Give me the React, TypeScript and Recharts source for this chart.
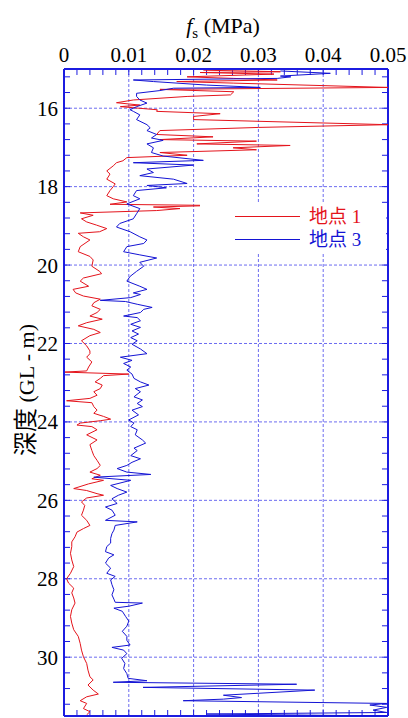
import React from 'react';
import { LineChart, Line, XAxis, YAxis, ReferenceLine, Legend } from 'recharts';

// 地点 1 (red) : depth (m) and skin friction fs (MPa)
const depth1 = [
  15.03, 15.07, 15.09, 15.13, 15.2, 15.24, 15.28, 15.32, 15.36, 15.47, 15.52, 15.58, 15.66, 15.7, 15.79, 15.86, 15.92, 15.96,
  16.04, 16.08, 16.14, 16.21, 16.29, 16.42, 16.49, 16.57, 16.67, 16.73, 16.8, 16.84, 16.91, 16.95, 17.01, 17.06, 17.13, 17.2,
  17.26, 17.34, 17.39, 17.47, 17.6, 17.68, 17.81, 17.93, 18.0, 18.1, 18.23, 18.31, 18.39, 18.45, 18.48, 18.52, 18.56, 18.61,
  18.67, 18.73, 18.82, 18.9, 18.98, 19.07, 19.15, 19.19, 19.28, 19.36, 19.53, 19.66, 19.78, 19.87, 20.03, 20.16, 20.22, 20.33,
  20.41, 20.54, 20.62, 20.71, 20.79, 20.87, 20.96, 21.04, 21.13, 21.21, 21.3, 21.38, 21.47, 21.55, 21.64, 21.72, 21.8, 21.93,
  22.06, 22.19, 22.26, 22.35, 22.47, 22.6, 22.7, 22.73, 22.78, 22.82, 22.89, 22.98, 23.06, 23.15, 23.23, 23.32, 23.4, 23.46,
  23.51, 23.61, 23.7, 23.78, 23.86, 23.93, 23.97, 24.03, 24.08, 24.12, 24.2, 24.33, 24.46, 24.58, 24.73, 24.86, 24.98, 25.11,
  25.19, 25.28, 25.36, 25.45, 25.49, 25.58, 25.7, 25.75, 25.83, 25.87, 25.94, 26.04, 26.13, 26.25, 26.38, 26.51, 26.64, 26.72,
  26.81, 26.93, 27.06, 27.18, 27.35, 27.52, 27.69, 27.86, 28.0, 28.11, 28.24, 28.36, 28.49, 28.62, 28.79, 28.96, 29.13, 29.3,
  29.47, 29.65, 29.82, 29.99, 30.16, 30.33, 30.5, 30.58, 30.71, 30.84, 30.94, 31.01, 31.11, 31.18, 31.31, 31.39, 31.47,
];
const fs1 = [
  0.0215, 0.0334, 0.021, 0.0324, 0.019, 0.0262, 0.0329, 0.0174, 0.0262, 0.05, 0.0148, 0.0262, 0.0257, 0.019, 0.0107, 0.0081, 0.0117, 0.0087,
  0.0144, 0.0143, 0.0241, 0.02, 0.02, 0.05, 0.03, 0.0148, 0.0143, 0.023, 0.0148, 0.0297, 0.0205, 0.0349, 0.0261, 0.0297, 0.0148, 0.019,
  0.0097, 0.0091, 0.0081, 0.0076, 0.0066, 0.0071, 0.0066, 0.0079, 0.0076, 0.0071, 0.0066, 0.0076, 0.0097, 0.0071, 0.0233, 0.0138, 0.0179, 0.0143,
  0.0025, 0.0045, 0.0027, 0.0035, 0.005, 0.0066, 0.0055, 0.0022, 0.003, 0.004, 0.0025, 0.0022, 0.004, 0.0045, 0.0043, 0.0055, 0.0058, 0.003,
  0.0025, 0.0038, 0.0014, 0.0018, 0.003, 0.0056, 0.0046, 0.0043, 0.0056, 0.0051, 0.004, 0.0059, 0.0035, 0.0022, 0.0046, 0.0056, 0.004, 0.0027,
  0.0035, 0.004, 0.004, 0.0035, 0.0043, 0.0038, 0.0035, 0.0, 0.01, 0.0061, 0.0056, 0.0048, 0.0059, 0.0056, 0.0046, 0.0051, 0.004, 0.0004,
  0.0043, 0.0046, 0.0051, 0.0046, 0.0061, 0.0072, 0.0056, 0.0025, 0.002, 0.0043, 0.0051, 0.0035, 0.0051, 0.004, 0.0043, 0.0046, 0.0051, 0.0056,
  0.0051, 0.004, 0.0056, 0.0043, 0.0061, 0.0038, 0.0015, 0.0035, 0.0051, 0.0061, 0.0035, 0.0027, 0.0032, 0.003, 0.0027, 0.0035, 0.004, 0.003,
  0.002, 0.0017, 0.0012, 0.0012, 0.001, 0.0012, 0.0015, 0.001, 0.0004, 0.0007, 0.0015, 0.0012, 0.0015, 0.0017, 0.0012, 0.001, 0.0012, 0.0015,
  0.0022, 0.0025, 0.0027, 0.003, 0.0035, 0.0037, 0.004, 0.0045, 0.0037, 0.0045, 0.0053, 0.0035, 0.0025, 0.0035, 0.003, 0.004, 0.0035,
];

// 地点 3 (blue)
const depth3 = [
  15.05, 15.11, 15.18, 15.2, 15.24, 15.28, 15.32, 15.41, 15.47, 15.49, 15.55, 15.62, 15.7, 15.79, 15.87, 15.96, 16.04,
  16.08, 16.17, 16.29, 16.42, 16.5, 16.57, 16.67, 16.76, 16.82, 16.91, 17.01, 17.13, 17.22, 17.33, 17.39, 17.45, 17.55,
  17.64, 17.72, 17.81, 17.92, 17.97, 18.03, 18.1, 18.23, 18.31, 18.44, 18.56, 18.69, 18.82, 18.94, 19.03, 19.15, 19.28,
  19.36, 19.45, 19.53, 19.66, 19.74, 19.82, 19.93, 20.03, 20.16, 20.29, 20.41, 20.54, 20.62, 20.71, 20.75, 20.83, 20.9,
  20.93, 21.0, 21.08, 21.13, 21.21, 21.3, 21.34, 21.42, 21.51, 21.59, 21.68, 21.76, 21.85, 21.93, 22.02, 22.14, 22.26,
  22.35, 22.43, 22.51, 22.6, 22.68, 22.78, 22.89, 22.98, 23.06, 23.15, 23.23, 23.36, 23.44, 23.53, 23.61, 23.7, 23.82,
  23.95, 24.03, 24.12, 24.2, 24.33, 24.46, 24.54, 24.67, 24.73, 24.86, 24.94, 25.03, 25.11, 25.19, 25.28, 25.34, 25.41,
  25.49, 25.62, 25.7, 25.79, 25.87, 25.96, 26.08, 26.17, 26.25, 26.38, 26.51, 26.55, 26.64, 26.76, 26.85, 26.97, 27.09,
  27.18, 27.31, 27.39, 27.47, 27.6, 27.73, 27.86, 27.94, 28.03, 28.15, 28.28, 28.41, 28.52, 28.6, 28.62, 28.7, 28.75,
  28.83, 28.96, 29.08, 29.21, 29.34, 29.47, 29.57, 29.69, 29.75, 29.82, 29.91, 30.03, 30.16, 30.29, 30.42, 30.54, 30.6,
  30.64, 30.69, 30.77, 30.84, 30.97, 31.03, 31.07, 31.11, 31.18, 31.22, 31.28, 31.35, 31.41, 31.45, 31.5,
];
const fs3 = [
  0.0334, 0.0411, 0.0334, 0.035, 0.0329, 0.0107, 0.0138, 0.022, 0.0303, 0.0169, 0.0148, 0.0112, 0.0112, 0.0117, 0.0128, 0.0112, 0.0102,
  0.0107, 0.0117, 0.0112, 0.0128, 0.0133, 0.0128, 0.0143, 0.0135, 0.0153, 0.0128, 0.0138, 0.0135, 0.0153, 0.0215, 0.0107, 0.02, 0.0128,
  0.0138, 0.0117, 0.0169, 0.019, 0.0128, 0.0158, 0.0112, 0.0107, 0.0117, 0.0097, 0.0117, 0.0112, 0.0107, 0.0086, 0.0081, 0.0102, 0.0117,
  0.0128, 0.0123, 0.0097, 0.0092, 0.0117, 0.0143, 0.0117, 0.0123, 0.0112, 0.0102, 0.0097, 0.0117, 0.0128, 0.0107, 0.0118, 0.0103, 0.0056,
  0.0095, 0.0113, 0.0136, 0.0123, 0.0118, 0.0092, 0.0113, 0.0118, 0.0103, 0.0118, 0.0105, 0.0115, 0.0103, 0.0113, 0.0105, 0.0118, 0.0128,
  0.0087, 0.0105, 0.0092, 0.0103, 0.0097, 0.0105, 0.0108, 0.0118, 0.0131, 0.011, 0.0118, 0.0108, 0.0121, 0.0113, 0.0121, 0.0105, 0.0115,
  0.01, 0.0108, 0.0103, 0.0113, 0.011, 0.0121, 0.0126, 0.0108, 0.0113, 0.0103, 0.0118, 0.0105, 0.0097, 0.0082, 0.0097, 0.0134, 0.0046,
  0.0103, 0.0072, 0.0082, 0.0097, 0.0084, 0.0074, 0.0082, 0.0064, 0.0074, 0.0079, 0.0064, 0.0113, 0.0079, 0.0077, 0.0074, 0.0072, 0.0072,
  0.0066, 0.0064, 0.0077, 0.0069, 0.0064, 0.0072, 0.0066, 0.0079, 0.0072, 0.0074, 0.0077, 0.0074, 0.0077, 0.0079, 0.0121, 0.01, 0.0077,
  0.009, 0.0095, 0.01, 0.0097, 0.009, 0.0097, 0.0097, 0.0102, 0.0074, 0.0092, 0.0097, 0.0089, 0.0094, 0.0092, 0.0097, 0.0099, 0.0128,
  0.0076, 0.0359, 0.0122, 0.0387, 0.0246, 0.0274, 0.0246, 0.0184, 0.0498, 0.0472, 0.0498, 0.0477, 0.0498, 0.022, 0.0498,
];

const X_DOMAIN: [number, number] = [0, 0.05];
const Y_DOMAIN: [number, number] = [15, 31.5];
const xTicks = [0, 0.01, 0.02, 0.03, 0.04, 0.05];
const yTicks = [16, 18, 20, 22, 24, 26, 28, 30];
const xMinor = Array.from({ length: 24 }, (_, i) => +((i + 1) * 0.002).toFixed(3));
const yMinor = Array.from({ length: 41 }, (_, i) => +(15.2 + i * 0.4).toFixed(1));
const gridX = [0.01, 0.02, 0.03, 0.04];
const gridY = [16, 18, 20, 22, 24, 26, 28, 30];

// tick mark length (~6px) in data units
const TICK_DX = 0.00093;
const TICK_DY = 0.153;

const RED = '#e4141c';
const BLUE = '#1414d4';
const FRAME = '#1c1ce0';
const GRID = '#6c6cf0';
const SERIF = "'Liberation Serif', 'Noto Sans CJK JP', serif";

const series = [
  { name: '地点 1', color: RED, data: depth1.map((d, i) => ({ depth: d, fs: fs1[i] })) },
  { name: '地点 3', color: BLUE, data: depth3.map((d, i) => ({ depth: d, fs: fs3[i] })) },
];

const FsLabel = (props: any) => {
  const vb = props.viewBox;
  const cx = vb.x + vb.width / 2 - 3;
  return (
    <text x={cx} y={vb.y + 4} textAnchor="middle" fontFamily={SERIF} fontSize={22} fill="#000">
      <tspan fontStyle="italic">f</tspan>
      <tspan fontSize={15} dy={5}>s</tspan>
      <tspan dy={-5}> (MPa)</tspan>
    </text>
  );
};

const DepthLabel = () => (
  <text x={34} y={390} transform="rotate(-90, 34, 390)" textAnchor="middle" fontFamily={SERIF} fontSize={22} fill="#000">
    <tspan fontSize={24}>深度</tspan>
    <tspan> (GL - m)</tspan>
  </text>
);

const LegendBox = () => (
  <svg width={186} height={50} style={{ display: 'block' }}>
    <rect x={0} y={0} width={186} height={50} fill="#fff" />
    {series.map((s, i) => (
      <g key={s.name}>
        <line x1={35} x2={100} y1={13.5 + i * 23} y2={13.5 + i * 23} stroke={s.color} strokeWidth={1} />
        <text x={109} y={20 + i * 23} fill={s.color} fontFamily={SERIF} fontSize={19}>
          {s.name}
        </text>
      </g>
    ))}
  </svg>
);

export default function App() {
  const refProps = { xAxisId: 'top', yAxisId: 'left', stroke: FRAME, strokeWidth: 1 };
  return (
    <div style={{ position: 'absolute', left: 0, top: 0, width: 408, height: 718, background: '#fff' }}>
      <LineChart width={408} height={718} layout="vertical" margin={{ top: 29, right: 20, bottom: 2, left: 0 }}>
        <XAxis
          xAxisId="top"
          type="number"
          orientation="top"
          domain={X_DOMAIN}
          allowDataOverflow
          ticks={xTicks}
          interval={0}
          height={40}
          tickLine={false}
          tickSize={0}
          tickMargin={7}
          tickFormatter={(v: number) => String(v)}
          axisLine={{ stroke: FRAME, strokeWidth: 2 }}
          tick={{ fill: '#000', fontSize: 21, fontFamily: SERIF }}
          label={FsLabel}
        />
        <YAxis
          yAxisId="left"
          type="number"
          dataKey="depth"
          domain={Y_DOMAIN}
          allowDataOverflow
          ticks={yTicks}
          interval={0}
          width={64}
          tickLine={false}
          tickSize={0}
          tickMargin={6}
          axisLine={{ stroke: FRAME, strokeWidth: 2 }}
          tick={{ fill: '#000', fontSize: 21, fontFamily: SERIF }}
          label={DepthLabel}
        />
        {gridX.map((v) => (
          <ReferenceLine key={`gx${v}`} xAxisId="top" yAxisId="left" x={v} stroke={GRID} strokeDasharray="3 2" strokeWidth={1} />
        ))}
        {gridY.map((v) => (
          <ReferenceLine key={`gy${v}`} xAxisId="top" yAxisId="left" y={v} stroke={GRID} strokeDasharray="3 2" strokeWidth={1} />
        ))}
        {/* right and bottom frame */}
        <ReferenceLine {...refProps} x={X_DOMAIN[1]} strokeWidth={2} />
        <ReferenceLine {...refProps} y={Y_DOMAIN[1]} strokeWidth={2} />
        {/* inward minor ticks on all four sides */}
        {xMinor.map((v) => (
          <ReferenceLine key={`tt${v}`} {...refProps} segment={[{ x: v, y: Y_DOMAIN[0] }, { x: v, y: Y_DOMAIN[0] + TICK_DY }]} />
        ))}
        {xMinor.map((v) => (
          <ReferenceLine key={`tb${v}`} {...refProps} segment={[{ x: v, y: Y_DOMAIN[1] }, { x: v, y: Y_DOMAIN[1] - TICK_DY }]} />
        ))}
        {yMinor.map((v) => (
          <ReferenceLine key={`tl${v}`} {...refProps} segment={[{ x: X_DOMAIN[0], y: v }, { x: X_DOMAIN[0] + TICK_DX, y: v }]} />
        ))}
        {yMinor.map((v) => (
          <ReferenceLine key={`tr${v}`} {...refProps} segment={[{ x: X_DOMAIN[1], y: v }, { x: X_DOMAIN[1] - TICK_DX, y: v }]} />
        ))}
        {series.map((s) => (
          <Line
            key={s.name}
            name={s.name}
            xAxisId="top"
            yAxisId="left"
            data={s.data}
            dataKey="fs"
            type="linear"
            stroke={s.color}
            strokeWidth={1}
            dot={false}
            isAnimationActive={false}
          />
        ))}
        <Legend
          layout="horizontal"
          verticalAlign="middle"
          content={LegendBox}
          wrapperStyle={{ left: 200, top: 203, width: 186, height: 50 }}
        />
      </LineChart>
    </div>
  );
}
